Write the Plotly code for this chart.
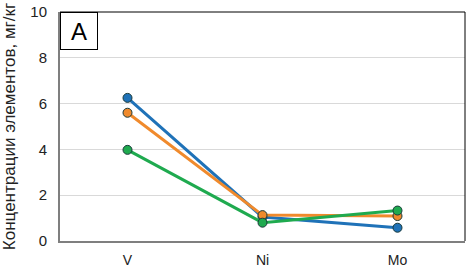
import plotly.graph_objects as go

categories = ["V", "Ni", "Mo"]
series_blue = [6.25, 1.05, 0.58]
series_orange = [5.6, 1.13, 1.09]
series_green = [3.98, 0.8, 1.33]
y_ticks = [0, 2, 4, 6, 8, 10]

colors = {"blue": "#1f72b8", "orange": "#f08a2c", "green": "#1faa4f"}

fig = go.Figure()
for name, vals in [("blue", series_blue), ("orange", series_orange), ("green", series_green)]:
    fig.add_trace(go.Scatter(
        x=categories, y=vals, mode="lines+markers", name=name,
        line=dict(color=colors[name], width=3),
        marker=dict(size=9, color=colors[name], line=dict(color="#1a3a3a", width=1)),
    ))

fig.update_layout(
    width=470, height=269,
    margin=dict(l=60, r=5, t=12, b=28),
    plot_bgcolor="white", paper_bgcolor="white",
    showlegend=False,
    font=dict(family="Liberation Sans, Arial, sans-serif", size=15, color="#222"),
    xaxis=dict(
        type="category", showgrid=False, showline=True, linecolor="#7f7f7f", linewidth=2,
        ticks="", ticklabelstandoff=5, tickfont=dict(size=14),
        range=[-0.5, 2.5], automargin=False,
    ),
    yaxis=dict(
        range=[0, 10], tickvals=y_ticks, showgrid=True, gridcolor="#d9d9d9", gridwidth=1,
        showline=True, linecolor="#7f7f7f", linewidth=2, ticks="",
        tickfont=dict(size=15), ticklabelstandoff=8, zeroline=False, automargin=False,
        title=dict(text="Концентрации элементов, мг/кг", font=dict(size=17), standoff=10),
    ),
    shapes=[
        dict(type="line", xref="paper", yref="paper", x0=0, x1=1, y0=1, y1=1,
             line=dict(color="#000", width=1)),
        dict(type="line", xref="paper", yref="paper", x0=1, x1=1, y0=0, y1=1,
             line=dict(color="#000", width=1)),
    ],
    annotations=[
        dict(text="A", xref="paper", yref="paper", x=0, y=1, xanchor="left", yanchor="top",
             showarrow=False, font=dict(size=24, color="#000"),
             bordercolor="#000", borderwidth=1, bgcolor="white", width=36, height=36,
             borderpad=0),
    ],
)

fig.write_html("out.html", config={"displayModeBar": False},
               post_script="document.body.style.margin='0';document.body.style.overflow='hidden';")
